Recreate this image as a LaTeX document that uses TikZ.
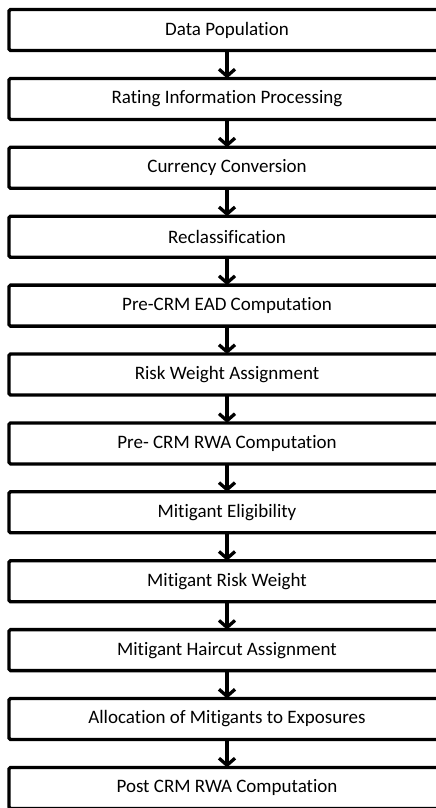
\documentclass[tikz,border=0pt]{standalone}
\usepackage{fontspec}
\setmainfont{Carlito}[Ligatures=NoCommon]
\usepackage{tikz}
\usetikzlibrary{arrows.meta, positioning}

\begin{document}
\begin{tikzpicture}[
    x=1pt, y=1pt,
    node distance=27.9pt,
    stage/.style={rectangle, draw=black, fill=white, line width=3.3pt, rounded corners=1.5pt, align=center, minimum width=436pt, minimum height=41pt, inner sep=0pt, outer sep=0pt, font=\fontsize{19}{22}\selectfont},
    line/.style={draw, line width=3.3pt, -{Straight Barb[length=7pt,width=16pt]}}
]
\clip (0,0) rectangle (436,-808);

% Nodes
\node [stage] (pop) at (227,-30) {Data Population};
\node [stage, below=of pop] (rating) {Rating Information Processing};
\node [stage, below=of rating] (ccy) {Currency Conversion};
\node [stage, below=of ccy] (reclass) {Reclassification};
\node [stage, below=of reclass] (preead) {Pre-CRM EAD Computation};
\node [stage, below=of preead] (rw) {Risk Weight Assignment};
\node [stage, below=of rw] (prerwa) {Pre- CRM RWA Computation};
\node [stage, below=of prerwa] (elig) {Mitigant Eligibility};
\node [stage, below=of elig] (mrw) {Mitigant Risk Weight};
\node [stage, below=of mrw] (haircut) {Mitigant Haircut Assignment};
\node [stage, below=of haircut] (alloc) {Allocation of Mitigants to Exposures};
\node [stage, below=of alloc] (postrwa) {Post CRM RWA Computation};

% Connectors
\path [line] (pop) -- (rating);
\path [line] (rating) -- (ccy);
\path [line] (ccy) -- (reclass);
\path [line] (reclass) -- (preead);
\path [line] (preead) -- (rw);
\path [line] (rw) -- (prerwa);
\path [line] (prerwa) -- (elig);
\path [line] (elig) -- (mrw);
\path [line] (mrw) -- (haircut);
\path [line] (haircut) -- (alloc);
\path [line] (alloc) -- (postrwa);

\end{tikzpicture}
\end{document}
